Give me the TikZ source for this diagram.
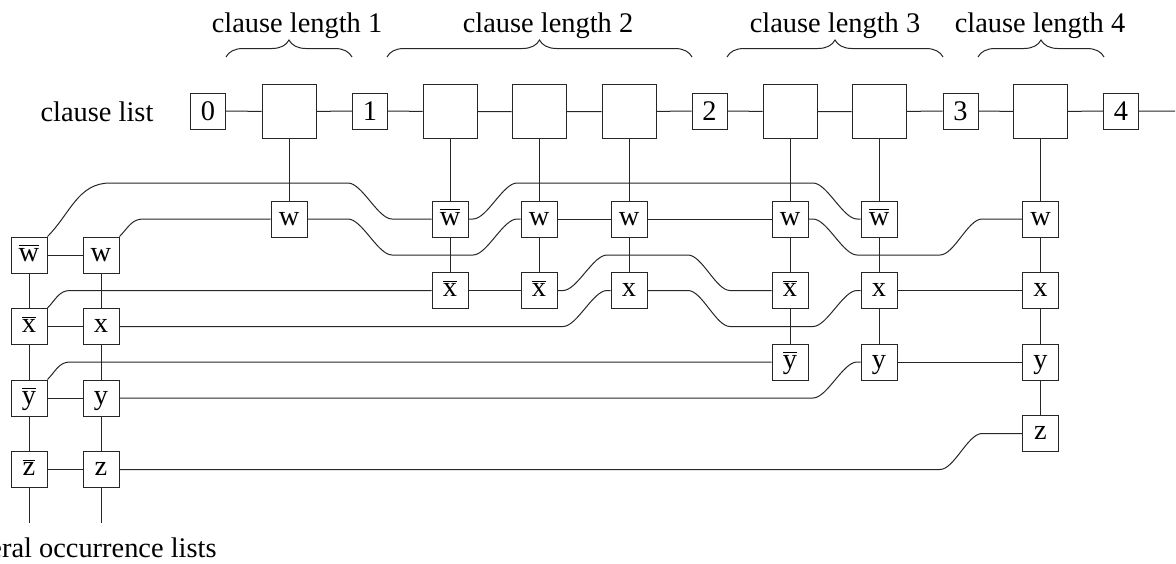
\documentclass[tikz,border=0pt]{standalone}
\usepackage{fontspec}
\setmainfont{Liberation Serif}
\usetikzlibrary{decorations.pathreplacing}
% negated literal: letter with a bar over it
\newcommand{\litbar}[1]{$\overline{\mbox{#1}}$}

\begin{document}
\begin{tikzpicture}[x=0.5pt,y=-0.5pt,line width=0.5pt,draw=black!85,
  every node/.style={font=\fontsize{14.2}{17}\selectfont},
  numbox/.style={draw,fill=white,minimum width=17.5pt,minimum height=18pt,inner sep=0pt,text height=9.6pt,text depth=0pt},
  clausebox/.style={draw,fill=white,minimum size=27pt,inner sep=0pt},
  litbox/.style={draw,fill=white,minimum size=18pt,inner sep=0pt,text height=6.4pt,text depth=0pt},
  grp/.style={decorate,decoration={brace,amplitude=8.5pt}}]

\useasboundingbox (0,0) rectangle (1176,563);

% ---------- clause list ----------
\node[anchor=base] (cltitle) at (97,121.5) {clause list};
\node[numbox] (s0) at (208,111) {0};
\node[clausebox] (c1) at (289,111.5) {};
\node[numbox] (s1) at (370,111) {1};
\node[clausebox] (c2) at (450,111.5) {};
\node[clausebox] (c3) at (539,111.5) {};
\node[clausebox] (c4) at (629,111.5) {};
\node[numbox] (s2) at (709.5,111) {2};
\node[clausebox] (c5) at (790,111.5) {};
\node[clausebox] (c6) at (879,111.5) {};
\node[numbox] (s3) at (960.5,111) {3};
\node[clausebox] (c7) at (1040.5,111.5) {};
\node[numbox] (s4) at (1121,111) {4};
\coordinate (listend) at (1175,111);

\draw (s0) -- (c1) -- (s1) -- (c2) -- (c3) -- (c4) -- (s2) -- (c5) -- (c6) -- (s3) -- (c7) -- (s4) -- (listend);

% ---------- clause length groups ----------
\draw[grp] (226,57) -- (352,57);
\draw[grp] (387,57) -- (692,57);
\draw[grp] (727,57) -- (943,57);
\draw[grp] (978,57) -- (1104,57);
\node[anchor=base] (len1) at (297,32) {clause length 1};
\node[anchor=base] (len2) at (548,32) {clause length 2};
\node[anchor=base] (len3) at (835,32) {clause length 3};
\node[anchor=base] (len4) at (1040,32) {clause length 4};

% ---------- literals of the clauses ----------
\node[litbox] (w1)  at (289,219) {w};
\node[litbox] (wb2) at (450,219) {\litbar{w}};
\node[litbox] (xb2) at (450,290.5) {\litbar{x}};
\node[litbox] (w3)  at (539,219) {w};
\node[litbox] (xb3) at (539,290.5) {\litbar{x}};
\node[litbox] (w4)  at (629,219) {w};
\node[litbox] (x4)  at (629,290.5) {x};
\node[litbox] (w5)  at (790,219) {w};
\node[litbox] (xb5) at (790,290.5) {\litbar{x}};
\node[litbox] (yb5) at (790,362) {\litbar{y}};
\node[litbox] (wb6) at (879,219) {\litbar{w}};
\node[litbox] (x6)  at (879,290.5) {x};
\node[litbox] (y6)  at (879,362) {y};
\node[litbox] (w7)  at (1040.5,219) {w};
\node[litbox] (x7)  at (1040.5,290.5) {x};
\node[litbox] (y7)  at (1040.5,362) {y};
\node[litbox] (z7)  at (1040.5,433.5) {z};

\draw (c1) -- (w1);
\draw (c2) -- (wb2) -- (xb2);
\draw (c3) -- (w3) -- (xb3);
\draw (c4) -- (w4) -- (x4);
\draw (c5) -- (w5) -- (xb5) -- (yb5);
\draw (c6) -- (wb6) -- (x6) -- (y6);
\draw (c7) -- (w7) -- (x7) -- (y7) -- (z7);

% ---------- literal occurrence list heads ----------
\node[litbox] (wbL) at (29,255) {\litbar{w}};
\node[litbox] (wL)  at (101,255) {w};
\node[litbox] (xbL) at (29,326.5) {\litbar{x}};
\node[litbox] (xL)  at (101,326.5) {x};
\node[litbox] (ybL) at (29,398) {\litbar{y}};
\node[litbox] (yL)  at (101,398) {y};
\node[litbox] (zbL) at (29,469.5) {\litbar{z}};
\node[litbox] (zL)  at (101,469.5) {z};
\coordinate (barend) at (29,523);
\coordinate (posend) at (101,523);

\draw (wbL) -- (wL);
\draw (xbL) -- (xL);
\draw (ybL) -- (yL);
\draw (zbL) -- (zL);
\draw (wbL) -- (xbL) -- (ybL) -- (zbL) -- (barend);
\draw (wL) -- (xL) -- (yL) -- (zL) -- (posend);

\node[anchor=base east,inner sep=0pt] (occtitle) at (217,557) {literal occurrence lists};

% ---------- occurrence chains ----------
% not w
\draw (wbL.north east) to[out=45,in=180] (110,183) -- (348,183)
      .. controls (362,183) and (378,219) .. (392,219) -- (wb2.west);
\draw (wb2.east) -- (473,219) .. controls (487,219) and (503,183) .. (517,183)
      -- (813,183) .. controls (827,183) and (843,219) .. (857,219) -- (wb6.west);
% w
\draw (wL.north east) to[out=45,in=180] (143,219) -- (w1.west);
\draw (w1.east) -- (348,219) .. controls (362,219) and (378,255) .. (392,255)
      -- (473,255) .. controls (487,255) and (503,219) .. (517,219) -- (w3.west);
\draw (w3) -- (w4);
\draw (w4) -- (w5);
\draw (w5.east) -- (813,219) .. controls (827,219) and (843,255) .. (857,255)
      -- (940,255) .. controls (954,255) and (968,219) .. (982,219) -- (w7.west);
% not x
\draw (xbL.north east) to[out=45,in=180] (70,290.5) -- (xb2.west);
\draw (xb2) -- (xb3);
\draw (xb3.east) -- (563,290.5) .. controls (577,290.5) and (593,255) .. (607,255)
      -- (688,255) .. controls (702,255) and (716,290.5) .. (730,290.5) -- (xb5.west);
% x
\draw (xL.east) -- (563,326.5) .. controls (577,326.5) and (593,290.5) .. (607,290.5) -- (x4.west);
\draw (x4.east) -- (688,290.5) .. controls (702,290.5) and (716,326.5) .. (730,326.5)
      -- (813,326.5) .. controls (827,326.5) and (843,290.5) .. (857,290.5) -- (x6.west);
\draw (x6) -- (x7);
% not y
\draw (ybL.north east) to[out=45,in=180] (70,362) -- (yb5.west);
% y
\draw (yL.east) -- (813,398) .. controls (827,398) and (843,362) .. (857,362) -- (y6.west);
\draw (y6) -- (y7);
% z
\draw (zL.east) -- (940,469.5) .. controls (954,469.5) and (968,433.5) .. (982,433.5) -- (z7.west);
\end{tikzpicture}
\end{document}
